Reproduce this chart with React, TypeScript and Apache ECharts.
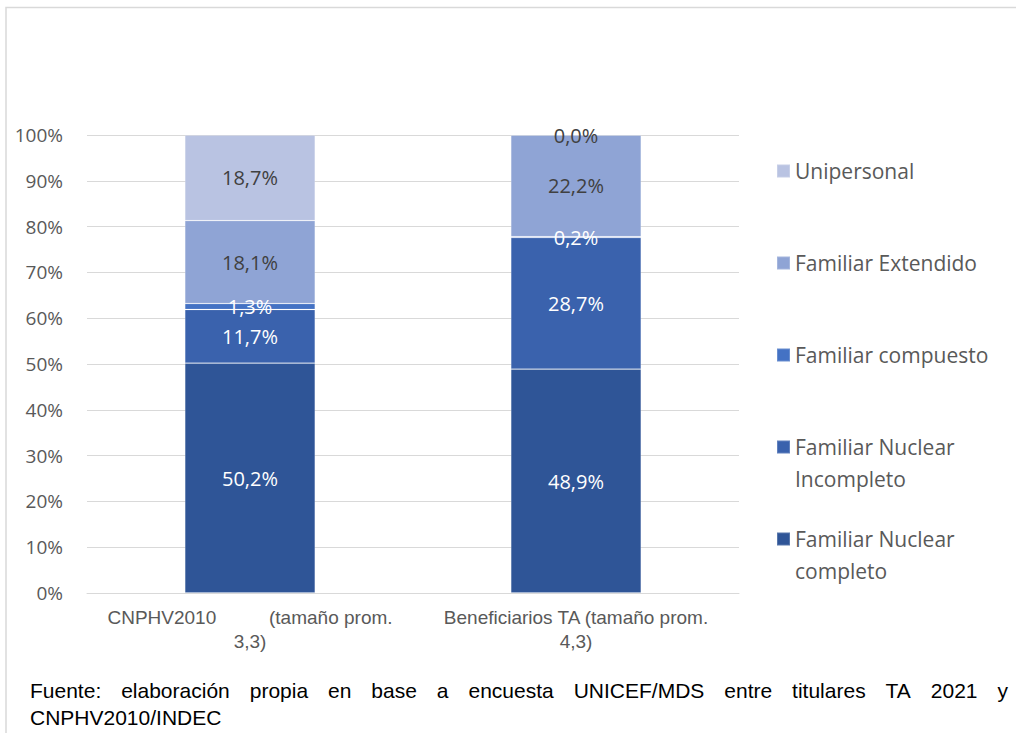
import React, { useEffect, useRef } from 'react';
import * as echarts from 'echarts';

const categories = ['CNPHV2010          (tamaño prom.\n3,3)', 'Beneficiarios TA (tamaño prom.\n4,3)'];
const seriesNames = [
  'Familiar Nuclear completo',
  'Familiar Nuclear Incompleto',
  'Familiar compuesto',
  'Familiar Extendido',
  'Unipersonal',
];
const legendLabels = [
  'Familiar Nuclear\ncompleto',
  'Familiar Nuclear\nIncompleto',
  'Familiar compuesto',
  'Familiar Extendido',
  'Unipersonal',
];
const nuclearCompleto = [50.2, 48.9];
const nuclearIncompleto = [11.7, 28.7];
const compuesto = [1.3, 0.2];
const extendido = [18.1, 22.2];
const unipersonal = [18.7, 0.0];
const seriesValues = [nuclearCompleto, nuclearIncompleto, compuesto, extendido, unipersonal];
const colors = ['#2F5597', '#3A62AD', '#4472C4', '#8FA4D5', '#B9C3E2'];
const labelColors = ['#FFFFFF', '#FFFFFF', '#FFFFFF', '#404040', '#404040'];
const sourceLine1 = 'Fuente: elaboración propia en base a encuesta UNICEF/MDS entre titulares TA 2021 y';
const sourceLine2 = 'CNPHV2010/INDEC';

const SRC_FONT = '"Liberation Sans", Arial, sans-serif';
const SRC_SIZE = 21;

function justifiedWords(text: string, x0: number, x1: number, y: number) {
  const words = text.split(' ');
  const canvas = document.createElement('canvas');
  const ctx = canvas.getContext('2d')!;
  ctx.font = `${SRC_SIZE}px "Liberation Sans"`;
  const widths = words.map((w) => ctx.measureText(w).width);
  const total = widths.reduce((a, b) => a + b, 0);
  const gap = (x1 - x0 - total) / (words.length - 1);
  let x = x0;
  return words.map((w, i) => {
    const el = {
      type: 'text',
      x,
      y,
      silent: true,
      style: {
        text: w,
        font: `${SRC_SIZE}px ${SRC_FONT}`,
        fill: '#000000',
        verticalAlign: 'middle',
      },
    };
    x += widths[i] + gap;
    return el;
  });
}

export default function App() {
  const ref = useRef<HTMLDivElement>(null);
  useEffect(() => {
    document.body.style.margin = '0';
    const chart = echarts.init(ref.current!, undefined, { renderer: 'svg' });
    const legendCenters = [539, 447, 355, 263, 171];
    const option: any = {
      animation: false,
      backgroundColor: '#FFFFFF',
      grid: { left: 87, right: 277, top: 135, bottom: 140, containLabel: false },
      xAxis: {
        type: 'category',
        data: categories,
        axisTick: { show: false },
        axisLine: { lineStyle: { color: '#D9D9D9', width: 1 } },
        axisLabel: {
          interval: 0,
          margin: 12,
          color: '#595959',
          fontSize: 19,
          lineHeight: 24,
          fontFamily: '"Liberation Sans", Arial, sans-serif',
        },
      },
      yAxis: {
        type: 'value',
        min: 0,
        max: 100,
        interval: 10,
        axisLine: { show: false },
        axisTick: { show: false },
        splitLine: { lineStyle: { color: '#D9D9D9', width: 1 } },
        axisLabel: {
          formatter: '{value}%',
          margin: 24,
          color: '#595959',
          fontSize: 19,
          fontFamily: '"Open Sans", sans-serif',
        },
      },
      legend: seriesNames.map((name, i) => {
        const twoLine = legendLabels[i].includes('\n');
        return {
          data: [name],
          left: 776,
          top: legendCenters[i] - (twoLine ? 48 : 16),
          orient: 'vertical',
          icon: 'rect',
          itemWidth: 13,
          itemHeight: 13,
          itemGap: 0,
          padding: 0,
          selectedMode: false,
          formatter: () => (twoLine ? '\n' + legendLabels[i] : legendLabels[i]),
          textStyle: {
            color: '#595959',
            fontSize: 21,
            lineHeight: 32,
            fontFamily: '"Open Sans", sans-serif',
          },
        };
      }),
      series: seriesNames.map((name, i) => ({
        name,
        type: 'bar',
        stack: 'total',
        barWidth: '40%',
        data: seriesValues[i],
        itemStyle: { color: colors[i], borderColor: 'rgba(255,255,255,0.2)', borderWidth: 0.8 },
        label: {
          show: true,
          position: 'inside',
          color: labelColors[i],
          fontSize: 20,
          fontFamily: '"Open Sans", sans-serif',
          formatter: (p: any) => Number(p.value).toFixed(1).replace('.', ',') + '%',
        },
      })),
      graphic: [
        {
          type: 'rect',
          silent: true,
          z: -10,
          shape: { x: 6, y: 7.5, width: 1100, height: 1000 },
          style: { fill: 'none', stroke: '#D9D9D9', lineWidth: 1.5 },
        },
        ...justifiedWords(sourceLine1, 30, 1008, 690),
        {
          type: 'text',
          x: 30,
          y: 717,
          silent: true,
          style: {
            text: sourceLine2,
            font: `${SRC_SIZE}px ${SRC_FONT}`,
            fill: '#000000',
            verticalAlign: 'middle',
          },
        },
      ],
    };
    chart.setOption(option);
    return () => chart.dispose();
  }, []);
  return <div ref={ref} style={{ width: 1016, height: 733 }} />;
}
